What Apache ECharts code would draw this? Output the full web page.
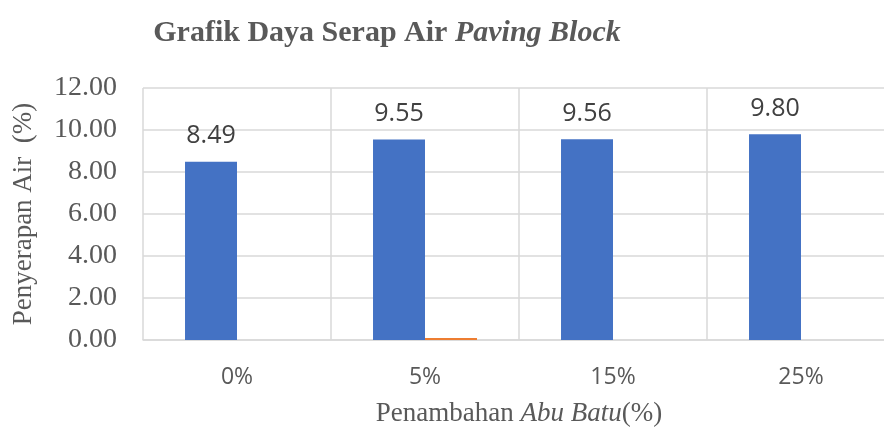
<!DOCTYPE html>
<html>
<head>
<meta charset="utf-8">
<script src="https://cdn.jsdelivr.net/npm/echarts@6/dist/echarts.min.js"></script>
<style>
  html, body { margin: 0; padding: 0; background: #fff; }
  #chart { width: 884px; height: 435px; }
</style>
</head>
<body>
<div id="chart"></div>
<script>
const categories = ['0%', '5%', '15%', '25%'];
const serapValues = [8.49, 9.55, 9.56, 9.80];
const series2Values = [0, 0.1, 0, 0];
const yTicks = [0, 12, 2]; // min, max, interval

const serif = '"Liberation Serif", "DejaVu Serif", serif';
const sans = '"Open Sans", "Noto Sans", sans-serif';

const chart = echarts.init(document.getElementById('chart'));
const option = {
  animation: false,
  title: {
    text: '{b|Grafik Daya Serap Air }{bi|Paving Block}',
    left: 382,
    top: 13,
    textAlign: 'center',
    textStyle: {
      rich: {
        b: { fontFamily: serif, fontWeight: 'bold', fontSize: 30, color: '#595959' },
        bi: { fontFamily: serif, fontWeight: 'bold', fontStyle: 'italic', fontSize: 30, color: '#595959' }
      }
    }
  },
  grid: { left: 143, right: -11, top: 88, bottom: 95, outerBoundsMode: 'none' },
  xAxis: {
    type: 'category',
    data: categories,
    boundaryGap: true,
    axisLine: { show: true, lineStyle: { color: '#d9d9d9', width: 1.5 } },
    axisTick: { show: false },
    splitLine: { show: true, lineStyle: { color: '#d9d9d9', width: 1.5 } },
    axisLabel: { fontFamily: sans, fontSize: 23, color: '#595959', margin: 26 },
    name: '{n|Penambahan }{i|Abu Batu}{n|(%)}',
    nameLocation: 'middle',
    nameGap: 60,
    nameTextStyle: {
      rich: {
        n: { fontFamily: serif, fontSize: 27, color: '#595959' },
        i: { fontFamily: serif, fontSize: 27, fontStyle: 'italic', color: '#595959' }
      }
    }
  },
  yAxis: {
    type: 'value',
    min: yTicks[0],
    max: yTicks[1],
    interval: yTicks[2],
    axisLine: { show: false },
    axisTick: { show: false },
    splitLine: { show: true, lineStyle: { color: '#d9d9d9', width: 1.5 } },
    axisLabel: {
      fontFamily: serif, fontSize: 28, color: '#595959', margin: 26,
      formatter: v => v.toFixed(2)
    },
    name: 'Penyerapan Air  (%)',
    nameLocation: 'middle',
    nameRotate: 90,
    nameGap: 106,
    nameTextStyle: { fontFamily: serif, fontSize: 27, color: '#595959' }
  },
  series: [
    {
      type: 'bar',
      data: serapValues,
      barGap: '0%',
      barCategoryGap: '44.7%',
      itemStyle: { color: '#4472c4' },
      label: {
        show: true,
        position: 'top',
        distance: 13,
        fontFamily: sans,
        fontSize: 25,
        color: '#404040',
        formatter: p => p.value.toFixed(2)
      }
    },
    {
      type: 'bar',
      data: series2Values,
      barGap: '0%',
      barCategoryGap: '44.7%',
      itemStyle: { color: '#ed7d31' }
    }
  ]
};
chart.setOption(option);
</script>
</body>
</html>
